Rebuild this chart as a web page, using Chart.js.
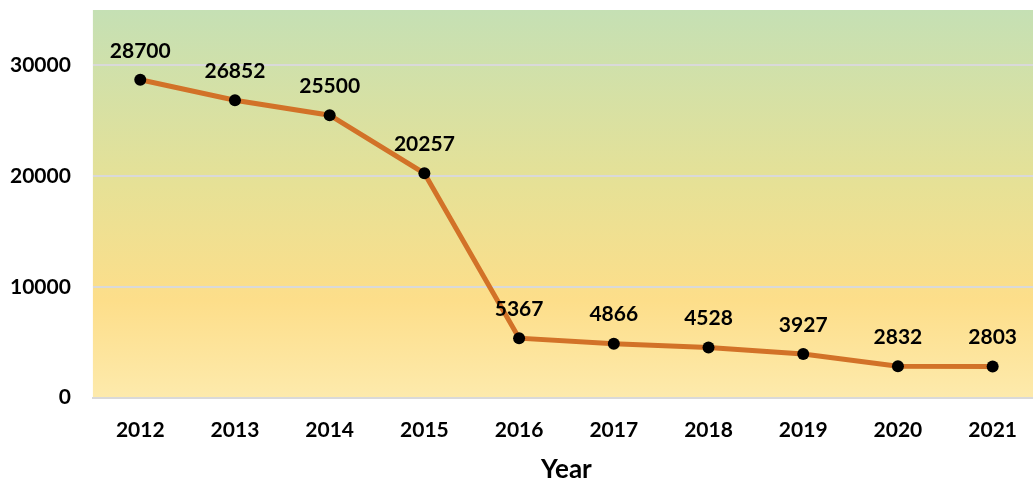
<!DOCTYPE html>
<html>
<head>
<meta charset="utf-8">
<script src="https://cdn.jsdelivr.net/npm/chart.js@4/dist/chart.umd.min.js"></script>
<style>
  html, body { margin: 0; padding: 0; background: #fff; overflow: hidden; }
  #wrap { width: 1040px; height: 482px; }
</style>
</head>
<body>
<div id="wrap"><canvas id="yearChart"></canvas></div>
<script>
    const years = ['2012', '2013', '2014', '2015', '2016', '2017', '2018', '2019', '2020', '2021'];
    const counts = [28700, 26852, 25500, 20257, 5367, 4866, 4528, 3927, 2832, 2803];
    const yTicks = [0, 10000, 20000, 30000];

    // gradient fill behind the plot area
    const plotBackground = {
        id: 'plotBackground',
        beforeDraw(chart) {
            const { ctx, chartArea: a } = chart;
            const g = ctx.createLinearGradient(0, a.top, 0, a.bottom);
            g.addColorStop(0, 'rgb(197, 224, 180)');
            g.addColorStop(0.45, 'rgb(230, 225, 150)');
            g.addColorStop(0.75, 'rgb(253, 222, 138)');
            g.addColorStop(1, 'rgb(253, 234, 172)');
            ctx.save();
            ctx.fillStyle = g;
            ctx.fillRect(a.left, a.top, a.right - a.left, a.bottom - a.top);
            ctx.restore();
        }
    };

    // value labels above each point
    const pointLabels = {
        id: 'pointLabels',
        afterDatasetsDraw(chart) {
            const { ctx } = chart;
            const meta = chart.getDatasetMeta(0);
            ctx.save();
            ctx.font = 'bold 21px Lato';
            ctx.fillStyle = '#000';
            ctx.textAlign = 'center';
            ctx.textBaseline = 'middle';
            meta.data.forEach((pt, i) => {
                ctx.fillText(String(counts[i]), pt.x, pt.y - 29);
            });
            ctx.restore();
        }
    };

    const ctxYear = document.getElementById('yearChart').getContext('2d');
    const yearChart = new Chart(ctxYear, {
        type: 'line',
        data: {
            labels: years,
            datasets: [{
                data: counts,
                borderColor: 'rgb(210, 114, 40)',
                borderWidth: 5,
                pointBackgroundColor: '#000',
                pointBorderWidth: 0,
                pointRadius: 6,
                fill: false,
                tension: 0
            }]
        },
        options: {
            responsive: true,
            maintainAspectRatio: false,
            animation: false,
            layout: { autoPadding: false, padding: { top: 10, left: -12, right: 0, bottom: -3 } },
            plugins: {
                legend: { display: false },
                tooltip: { enabled: false }
            },
            scales: {
                x: {
                    offset: true,
                    afterFit(axis) {
                        axis.paddingLeft = 0;
                        axis.paddingRight = 0;
                    },
                    grid: { display: false, drawTicks: false },
                    border: { display: true, color: 'rgb(217, 217, 217)', width: 2 },
                    ticks: {
                        color: '#000',
                        font: { family: 'Lato', size: 21, weight: 'bold' },
                        padding: 20
                    },
                    title: {
                        display: true,
                        text: 'Year',
                        color: '#000',
                        font: { family: 'Lato', size: 26, weight: 'bold' },
                        padding: { top: -9, bottom: 0 }
                    }
                },
                y: {
                    min: 0,
                    max: 35000,
                    afterBuildTicks(axis) {
                        axis.ticks = yTicks.map(v => ({ value: v }));
                    },
                    afterFit(axis) {
                        axis.paddingTop = 0;
                        axis.paddingBottom = 0;
                    },
                    grid: { color: 'rgb(217, 217, 217)', lineWidth: 2, drawTicks: false },
                    border: { display: false },
                    ticks: {
                        color: '#000',
                        font: { family: 'Lato', size: 21, weight: 'bold' },
                        padding: 22,
                        callback: v => String(v)
                    }
                }
            }
        },
        plugins: [plotBackground, pointLabels]
    });
</script>
</body>
</html>
